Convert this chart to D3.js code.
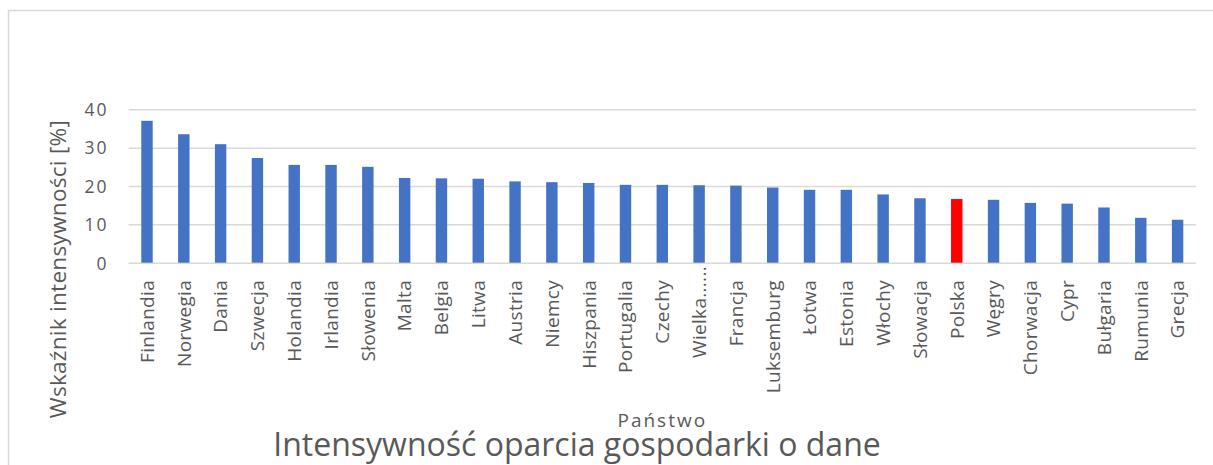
<!DOCTYPE html>
<html>
<head>
<meta charset="utf-8">
<script src="https://cdn.jsdelivr.net/npm/d3@7"></script>
<style>
  body { margin: 0; background: #fff; }
  text { font-family: "Open Sans", sans-serif; fill: #595959; }
</style>
</head>
<body>
<div id="chart"></div>
<script>
// data
const countries = ["Finlandia", "Norwegia", "Dania", "Szwecja", "Holandia", "Irlandia", "Słowenia",
    "Malta", "Belgia", "Litwa", "Austria", "Niemcy", "Hiszpania", "Portugalia", "Czechy", "Wielka......",
    "Francja", "Luksemburg", "Łotwa", "Estonia", "Włochy", "Słowacja", "Polska", "Węgry", "Chorwacja",
    "Cypr", "Bułgaria", "Rumunia", "Grecja"];
const values = [37.0, 33.5, 30.9, 27.3, 25.5, 25.5, 25.0,
    22.1, 22.0, 21.9, 21.2, 21.0, 20.8, 20.3, 20.3, 20.2,
    20.1, 19.6, 19.0, 19.0, 17.8, 16.8, 16.6, 16.4, 15.6,
    15.4, 14.4, 11.7, 11.2];
const highlight = ["Polska"];
const yTicks = [0, 10, 20, 30, 40];

const W = 1213, H = 465;
const plot = {left: 128.6, right: 1196, top: 109.3, bottom: 262.7};

const svg = d3.select("#chart")
    .append("svg")
    .attr("width", W)
    .attr("height", H);

// chart frame (cut by the window on the right and bottom)
svg.append("rect")
    .attr("x", 8.5).attr("y", 10.5)
    .attr("width", 1400).attr("height", 600)
    .attr("fill", "none")
    .attr("stroke", "#d9d9d9")
    .attr("stroke-width", 1.5);

const x = d3.scaleBand()
    .domain(countries)
    .range([plot.left, plot.right])
    .paddingInner(0.69)
    .paddingOuter(0.345);

const y = d3.scaleLinear()
    .domain([0, 40])
    .range([plot.bottom, plot.top]);

// gridlines + y tick labels
const yAxis = svg.append("g")
    .attr("transform", `translate(${plot.left},0)`)
    .call(d3.axisLeft(y).tickValues(yTicks).tickSize(-(plot.right - plot.left)).tickPadding(20));
yAxis.select(".domain").remove();
yAxis.selectAll(".tick line")
    .attr("stroke", "#d9d9d9")
    .attr("stroke-width", 1.5);
yAxis.selectAll(".tick text")
    .attr("font-size", 17.5)
    .attr("letter-spacing", 2)
    .attr("dy", "0.36em")
    .style("fill", "#595959");

// bars
svg.selectAll("rect.bar")
    .data(countries)
    .enter()
    .append("rect")
    .attr("class", "bar")
    .attr("x", d => x(d))
    .attr("width", x.bandwidth())
    .attr("y", (d, i) => y(values[i]))
    .attr("height", (d, i) => y(0) - y(values[i]))
    .attr("fill", d => highlight.includes(d) ? "#ff0000" : "#4472c4");

// category labels
svg.append("g")
    .selectAll("text")
    .data(countries)
    .enter()
    .append("text")
    .attr("transform", d => `translate(${x(d) + x.bandwidth() / 2},${d.endsWith("...") ? 266 : 280}) rotate(-90)`)
    .attr("text-anchor", "end")
    .attr("dy", "0.36em")
    .attr("font-size", 19)
    .attr("letter-spacing", 0.3)
    .text(d => d);

// y axis title
svg.append("text")
    .attr("transform", "translate(58,269) rotate(-90)")
    .attr("text-anchor", "middle")
    .attr("dy", "0.36em")
    .attr("font-size", 22.5)
    .attr("letter-spacing", 0.3)
    .text("Wskaźnik intensywności [%]");

// x axis title
svg.append("text")
    .attr("x", (plot.left + plot.right) / 2)
    .attr("y", 427)
    .attr("text-anchor", "middle")
    .attr("font-size", 19)
    .attr("letter-spacing", 2)
    .text("Państwo");

// chart title
svg.append("text")
    .attr("x", 577)
    .attr("y", 456)
    .attr("text-anchor", "middle")
    .attr("font-size", 32)
    .text("Intensywność oparcia gospodarki o dane");
</script>
</body>
</html>
